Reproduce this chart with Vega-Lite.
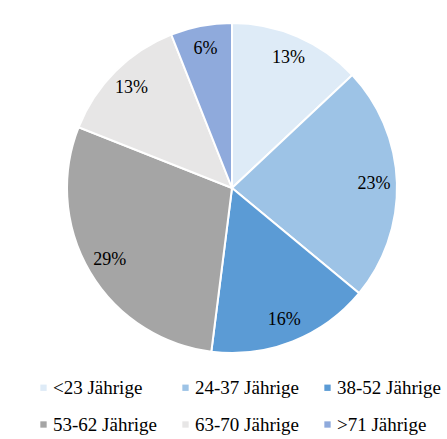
{
  "$schema": "https://vega.github.io/schema/vega-lite/v6.json",
  "width": 430,
  "height": 376,
  "autosize": {"type": "none"},
  "padding": {"left": 17, "top": 0, "right": 0, "bottom": 63},
  "background": "white",
  "data": {"values": [
    {"group": "<23 Jährige", "share": 0.13, "order": 1},
    {"group": "24-37 Jährige", "share": 0.23, "order": 2},
    {"group": "38-52 Jährige", "share": 0.16, "order": 3},
    {"group": "53-62 Jährige", "share": 0.29, "order": 4},
    {"group": "63-70 Jährige", "share": 0.13, "order": 5},
    {"group": ">71 Jährige", "share": 0.06, "order": 6}
  ]},
  "encoding": {
    "theta": {"field": "share", "type": "quantitative", "stack": true},
    "order": {"field": "order", "type": "quantitative"}
  },
  "layer": [
    {
      "mark": {"type": "arc", "outerRadius": 165, "stroke": "white", "strokeWidth": 2},
      "encoding": {
        "color": {
          "field": "group",
          "type": "nominal",
          "sort": null,
          "scale": {
            "domain": ["<23 Jährige", "24-37 Jährige", "38-52 Jährige", "53-62 Jährige", "63-70 Jährige", ">71 Jährige"],
            "range": ["#DEEBF7", "#9DC3E6", "#5B9BD5", "#A5A5A5", "#E7E6E6", "#8FAADC"]
          },
          "legend": {
            "orient": "none",
            "legendX": 17,
            "legendY": 378,
            "direction": "horizontal",
            "columns": 3,
            "title": null,
            "symbolType": "square",
            "symbolSize": 40,
            "symbolStrokeWidth": 0,
            "labelFont": "Liberation Serif",
            "labelFontSize": 19,
            "labelColor": "black",
            "columnPadding": 19,
            "rowPadding": 17,
            "labelOffset": 0
          }
        }
      }
    },
    {
      "mark": {"type": "text", "radius": 142, "font": "Liberation Serif", "fontSize": 18, "color": "black"},
      "encoding": {
        "text": {"field": "share", "type": "quantitative", "format": ".0%"},
        "detail": {"field": "group", "type": "nominal"}
      }
    }
  ],
  "config": {"view": {"stroke": null}}
}
